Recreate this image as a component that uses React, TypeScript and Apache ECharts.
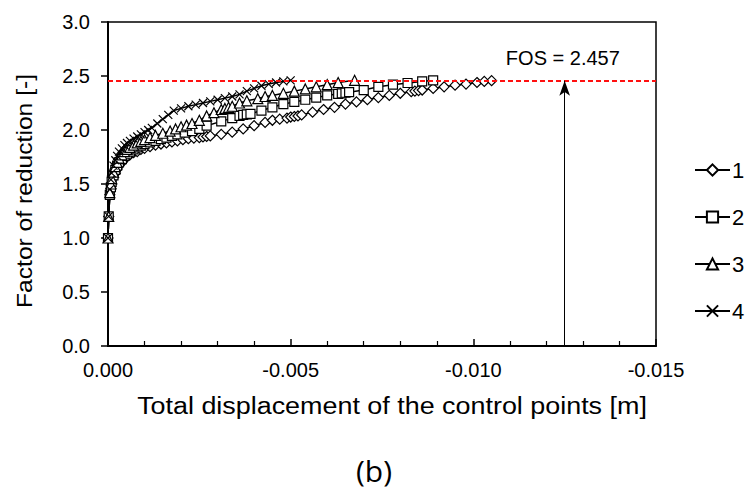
import React, { useEffect, useRef } from "react";
import * as echarts from "echarts";

// displacement in metres (negative) and factor of reduction
const s1X = [0, -0.00002, -0.00005, -0.00008, -0.0001, -0.00015, -0.0002, -0.00025, -0.0003, -0.00038, -0.00045, -0.00052, -0.0006, -0.0007, -0.0008, -0.0009, -0.001, -0.00115, -0.0013, -0.00145, -0.0016, -0.00175, -0.0019, -0.00205, -0.0022, -0.00235, -0.0025, -0.0026, -0.0027, -0.0028, -0.0031, -0.0034, -0.0037, -0.004, -0.0043, -0.0045, -0.0047, -0.0049, -0.005, -0.0051, -0.0052, -0.0053, -0.0056, -0.0059, -0.0062, -0.0065, -0.0068, -0.0071, -0.0074, -0.0077, -0.0080, -0.0083, -0.0084, -0.0085, -0.0086, -0.0089, -0.0092, -0.0095, -0.0098, -0.0101, -0.0103, -0.0105];
const s1Y = [1.0, 1.2, 1.4, 1.46, 1.5, 1.56, 1.6, 1.64, 1.67, 1.7, 1.73, 1.75, 1.77, 1.79, 1.8, 1.82, 1.83, 1.845, 1.86, 1.87, 1.88, 1.89, 1.9, 1.91, 1.92, 1.925, 1.93, 1.935, 1.94, 1.945, 1.96, 1.98, 2.01, 2.04, 2.07, 2.09, 2.1, 2.11, 2.12, 2.125, 2.13, 2.14, 2.165, 2.19, 2.21, 2.24, 2.26, 2.28, 2.3, 2.32, 2.34, 2.355, 2.36, 2.365, 2.37, 2.385, 2.40, 2.415, 2.425, 2.44, 2.45, 2.457];

const s2X = [0, -0.00002, -0.00005, -0.00008, -0.0001, -0.00015, -0.0002, -0.00025, -0.0003, -0.00038, -0.00045, -0.00052, -0.0006, -0.0007, -0.0008, -0.0009, -0.001, -0.00115, -0.0013, -0.00145, -0.0016, -0.00175, -0.0019, -0.0021, -0.0023, -0.0025, -0.0027, -0.0031, -0.0034, -0.0036, -0.0037, -0.0038, -0.0039, -0.0042, -0.0045, -0.0048, -0.0051, -0.0054, -0.0057, -0.0060, -0.0063, -0.0064, -0.0065, -0.0066, -0.0070, -0.0074, -0.0078, -0.0082, -0.0086, -0.0089];
const s2Y = [1.0, 1.2, 1.4, 1.47, 1.52, 1.58, 1.63, 1.67, 1.7, 1.73, 1.76, 1.78, 1.8, 1.82, 1.84, 1.855, 1.87, 1.885, 1.9, 1.915, 1.93, 1.945, 1.96, 1.975, 1.99, 2.01, 2.04, 2.08, 2.11, 2.13, 2.14, 2.145, 2.15, 2.18, 2.21, 2.24, 2.26, 2.28, 2.3, 2.32, 2.335, 2.34, 2.345, 2.35, 2.37, 2.4, 2.42, 2.435, 2.45, 2.46];

const s3X = [0, -0.00002, -0.00005, -0.00008, -0.0001, -0.00015, -0.0002, -0.00025, -0.0003, -0.00038, -0.00045, -0.00052, -0.0006, -0.0007, -0.0008, -0.0009, -0.001, -0.00115, -0.0013, -0.0015, -0.0017, -0.00185, -0.002, -0.00215, -0.0023, -0.0025, -0.0027, -0.0029, -0.0031, -0.0032, -0.0033, -0.0034, -0.0036, -0.0038, -0.0041, -0.0043, -0.0045, -0.0048, -0.0051, -0.0054, -0.0057, -0.0060, -0.0063, -0.00675];
const s3Y = [1.0, 1.2, 1.42, 1.5, 1.55, 1.61, 1.66, 1.7, 1.74, 1.77, 1.8, 1.82, 1.84, 1.86, 1.88, 1.895, 1.91, 1.93, 1.95, 1.97, 1.99, 2.01, 2.03, 2.045, 2.06, 2.09, 2.13, 2.16, 2.19, 2.2, 2.21, 2.22, 2.25, 2.27, 2.29, 2.31, 2.32, 2.34, 2.36, 2.38, 2.4, 2.42, 2.44, 2.46];

const s4X = [0, -0.00002, -0.00005, -0.00008, -0.0001, -0.00015, -0.0002, -0.00025, -0.0003, -0.00038, -0.00045, -0.00052, -0.0006, -0.0007, -0.0008, -0.0009, -0.001, -0.0011, -0.0012, -0.00135, -0.0015, -0.00165, -0.0018, -0.002, -0.0022, -0.0024, -0.0026, -0.0028, -0.003, -0.0032, -0.0034, -0.0036, -0.0038, -0.004, -0.0042, -0.0044, -0.0046, -0.0048, -0.005];
const s4Y = [1.0, 1.2, 1.45, 1.54, 1.6, 1.67, 1.72, 1.76, 1.8, 1.83, 1.86, 1.88, 1.9, 1.92, 1.94, 1.96, 1.98, 2.0, 2.02, 2.06, 2.1, 2.14, 2.18, 2.2, 2.22, 2.235, 2.25, 2.265, 2.28, 2.295, 2.31, 2.33, 2.36, 2.385, 2.41, 2.425, 2.44, 2.45, 2.46];

const seriesNames = ["1", "2", "3", "4"];
const FOS = 2.457;
const arrowX = -0.0125;
const fosLabel = "FOS = 2.457";
const xTitle = "Total displacement of the control points [m]";
const yTitle = "Factor of reduction [-]";
const caption = "(b)";

const FONT = "Liberation Sans, Arial, sans-serif";
const crossPath = "path://M0,0L10,10M10,0L0,10";

function zip(xs: number[], ys: number[]) {
  return xs.map((x, i) => [x, ys[i]]);
}

export default function App() {
  const ref = useRef<HTMLDivElement>(null);
  useEffect(() => {
    if (!ref.current) return;
    const chart = echarts.init(ref.current, null, { renderer: "svg" });
    const symbols = ["diamond", "rect", "triangle", crossPath];
    const sizes = [10, 9, 10, 8];
    const data = [zip(s1X, s1Y), zip(s2X, s2Y), zip(s3X, s3Y), zip(s4X, s4Y)];
    const series: any[] = data.map((d, i) => ({
      name: seriesNames[i],
      type: "line",
      data: d,
      symbol: symbols[i],
      symbolSize: sizes[i],
      showAllSymbol: true,
      lineStyle: { color: "#000", width: 1.5 },
      itemStyle: { color: "#fff", borderColor: "#000", borderWidth: 1.2 },
      z: 3,
    }));
    series.push({
      type: "line",
      data: [],
      z: 5,
      markLine: {
        silent: true,
        animation: false,
        label: { show: false },
        data: [
          [
            { coord: [0, FOS], symbol: "none", lineStyle: { color: "#ff1010", width: 2, type: [5, 3] } },
            { coord: [-0.015, FOS], symbol: "none" },
          ],
          [
            { coord: [arrowX, 0], symbol: "none", lineStyle: { color: "#000", width: 1, type: "solid" } },
            { coord: [arrowX, FOS], symbol: "arrow", symbolSize: [8, 15] },
          ],
        ],
      },
      markPoint: {
        silent: true,
        symbol: "circle",
        symbolSize: 1,
        itemStyle: { color: "transparent" },
        label: {
          show: true,
          formatter: fosLabel,
          color: "#000",
          fontSize: 20,
          fontFamily: FONT,
          position: "inside",
        },
        data: [{ coord: [-0.01245, 2.667] }],
      },
    });
    chart.setOption({
      animation: false,
      textStyle: { fontFamily: FONT, color: "#000" },
      title: {
        text: caption,
        left: "center",
        top: 450,
        textStyle: { fontSize: 30, fontWeight: "normal", color: "#000", fontFamily: "Open Sans, Liberation Sans, sans-serif" },
      },
      grid: {
        left: 108,
        right: 92,
        top: 22,
        bottom: 151,
        show: true,
        borderColor: "#000",
        borderWidth: 1.5,
        backgroundColor: "transparent",
      },
      legend: {
        orient: "vertical",
        left: 689,
        top: 154,
        itemWidth: 35,
        itemHeight: 14,
        itemGap: 25,
        textStyle: { fontSize: 22, lineHeight: 14, color: "#000", fontFamily: FONT, padding: [0, 0, 0, -3] },
        data: seriesNames,
      },
      graphic: [
        {
          type: "text",
          x: 392,
          y: 406,
          scaleX: 1.17,
          style: { text: xTitle, fontSize: 23, fontFamily: FONT, fill: "#000", align: "center", verticalAlign: "middle" },
        },
        {
          type: "text",
          x: 24,
          y: 191,
          rotation: Math.PI / 2,
          scaleX: 1.12,
          style: { text: yTitle, fontSize: 22, fontFamily: FONT, fill: "#000", align: "center", verticalAlign: "middle" },
        },
      ],
      xAxis: {
        type: "value",
        min: -0.015,
        max: 0,
        interval: 0.005,
        inverse: true,
        axisLine: { onZero: false, lineStyle: { color: "#000", width: 2 } },
        axisTick: { inside: true, length: 7, lineStyle: { color: "#000", width: 1.5 } },
        minorTick: { show: true, splitNumber: 5, length: 5, lineStyle: { color: "#000", width: 1.2 } },
        axisLabel: {
          fontSize: 20,
          color: "#000",
          margin: 14,
          formatter: (v: number) => (Math.abs(v) < 1e-12 ? "0.000" : v.toFixed(3)),
        },
        splitLine: { show: false },
      },
      yAxis: {
        type: "value",
        min: 0,
        max: 3,
        interval: 0.5,
        axisLine: { onZero: false, lineStyle: { color: "#000", width: 2 } },
        axisTick: { inside: false, length: 7, lineStyle: { color: "#000", width: 1.5 } },
        axisLabel: {
          fontSize: 20,
          color: "#000",
          margin: 18,
          formatter: (v: number) => v.toFixed(1),
        },
        splitLine: { show: false },
      },
      series,
    });
    return () => chart.dispose();
  }, []);
  return <div ref={ref} style={{ width: 748, height: 497, position: "absolute", left: 0, top: 0, background: "#fff" }} />;
}
